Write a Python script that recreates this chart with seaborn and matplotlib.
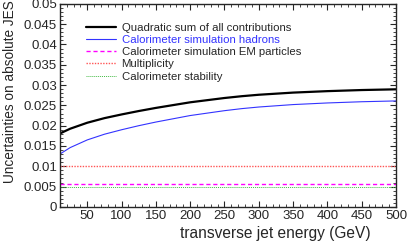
import matplotlib
matplotlib.use("Agg")
import matplotlib.pyplot as plt
from matplotlib.ticker import MultipleLocator, FuncFormatter
import pandas as pd
import seaborn as sns

# transverse jet energy (GeV)
energie = [10, 25, 50, 75, 100, 125, 150, 175, 200, 225, 250, 275, 300,
           350, 400, 450, 500]
# uncertainties
somme_quadratique = [0.01807, 0.01925, 0.02073, 0.02186, 0.02277, 0.02361, 0.02438,
                     0.02507, 0.02576, 0.02629, 0.02682, 0.02726, 0.02762,
                     0.02815, 0.02851, 0.02878, 0.02896]
hadrons = [0.0130, 0.0146, 0.0165, 0.0179, 0.0190, 0.0200, 0.0209, 0.0217, 0.0225,
           0.0231, 0.0237, 0.0242, 0.0246, 0.0252, 0.0256, 0.0259, 0.0261]
em_particules = [0.0057] * len(energie)
multiplicite = [0.010] * len(energie)
stabilite = [0.005] * len(energie)

series = [
    ("Quadratic sum of all contributions", somme_quadratique, "black", "-", 1.6),
    ("Calorimeter simulation hadrons", hadrons, "#3333ff", "-", 0.8),
    ("Calorimeter simulation EM particles", em_particules, "#ff00ff", (0, (3, 2)), 1.0),
    ("Multiplicity", multiplicite, "#ff5555", (0, (1, 1)), 1.0),
    ("Calorimeter stability", stabilite, "#44bb44", (0, (1, 1)), 0.7),
]

sns.set_style("ticks")
plt.rcParams["font.family"] = ["Liberation Sans", "DejaVu Sans"]

fig = plt.figure(figsize=(4.07, 2.42), dpi=100)
ax = fig.add_axes([0.147, 0.145, 0.826, 0.839])

for nom, valeurs, couleur, style, lw in series:
    df = pd.DataFrame({"E": energie, "u": valeurs})
    sns.lineplot(data=df, x="E", y="u", ax=ax, color=couleur, linewidth=lw,
                 linestyle=style, label=nom)

ax.set_xlim(10, 500)
ax.set_ylim(0, 0.05)
ax.xaxis.set_major_locator(MultipleLocator(50))
ax.xaxis.set_minor_locator(MultipleLocator(10))
ax.yaxis.set_major_locator(MultipleLocator(0.005))
ax.yaxis.set_minor_locator(MultipleLocator(0.001))
ax.yaxis.set_major_formatter(FuncFormatter(lambda v, p: "%g" % round(v, 4)))
ax.tick_params(which="both", direction="in", top=True, right=True, labelsize=9.5,
               pad=2)
ax.tick_params(which="major", length=4, width=0.8)
ax.tick_params(which="minor", length=2, width=0.6)
for s in ax.spines.values():
    s.set_linewidth(1.0)

ax.set_xlabel("transverse jet energy (GeV)", fontsize=11.2)
ax.xaxis.set_label_coords(0.64, -0.095)
ax.set_ylabel("Uncertainties on absolute JES", fontsize=9.8, loc="top")
ax.yaxis.set_label_coords(-0.128, 1.02)

leg = ax.legend(loc="upper left", bbox_to_anchor=(0.065, 0.93), frameon=False,
                fontsize=8.2, handlelength=2.6, labelspacing=0.2, handletextpad=0.5,
                borderaxespad=0)
leg.get_texts()[1].set_color("#3333ff")

fig.savefig("out.png", dpi=100)
